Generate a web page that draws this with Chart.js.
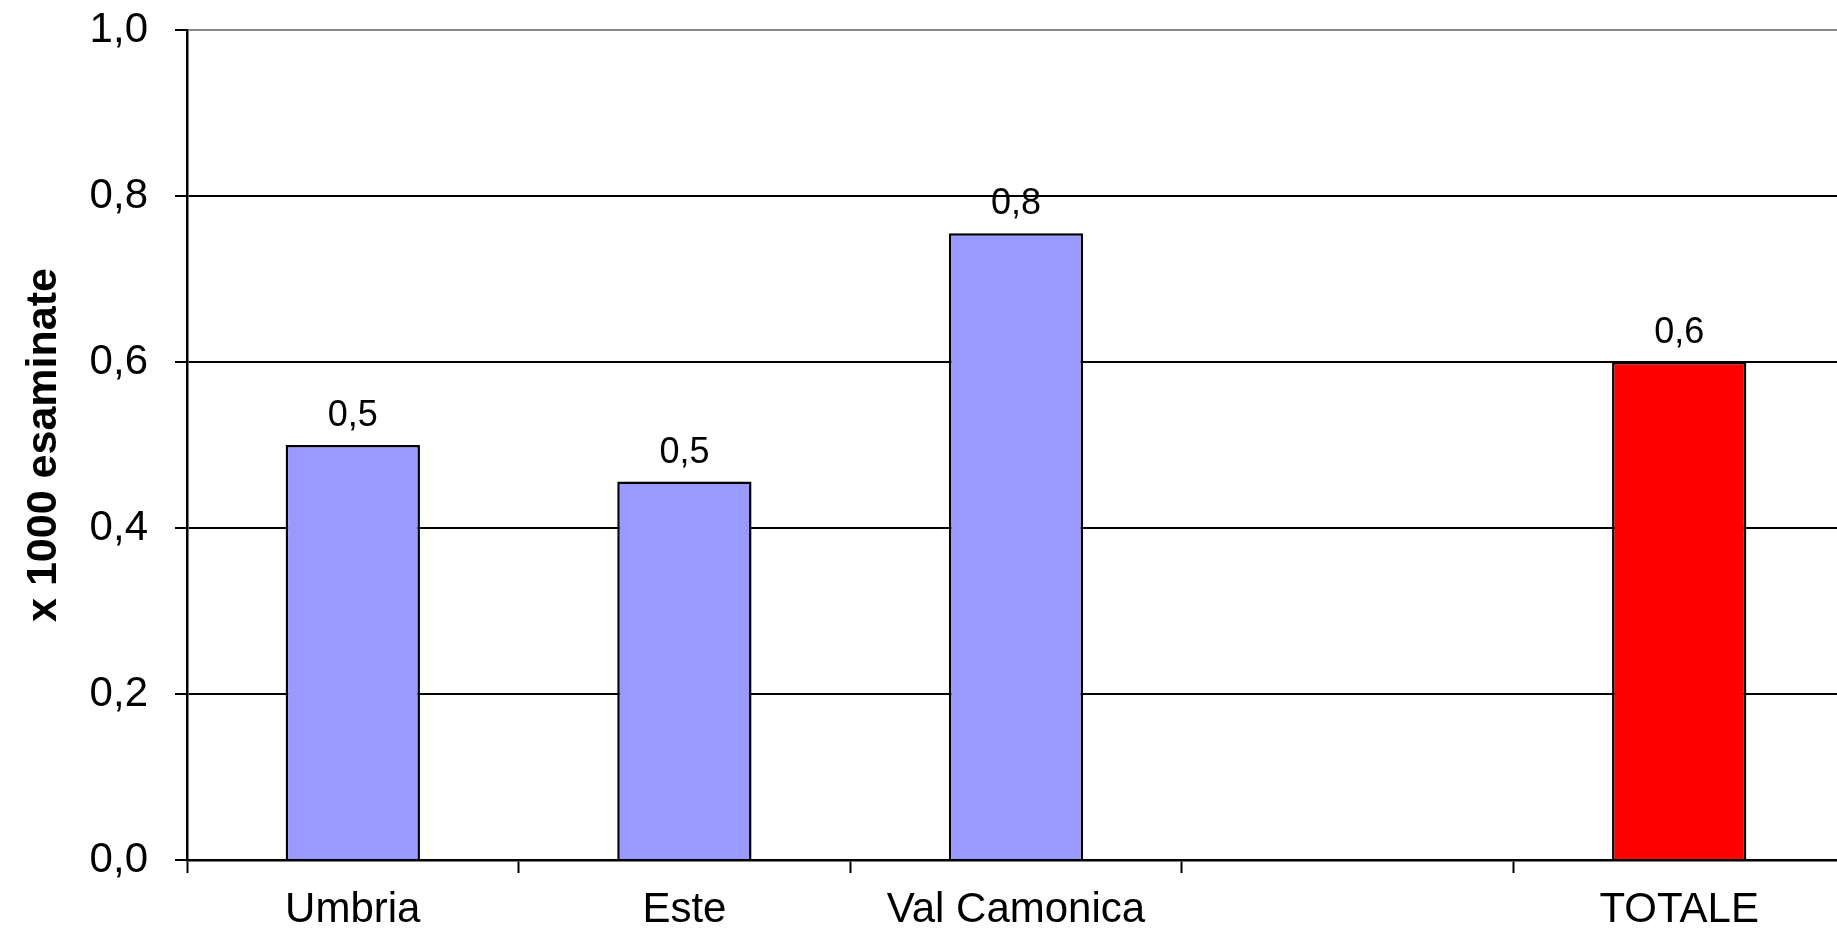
<!DOCTYPE html>
<html>
<head>
<meta charset="utf-8">
<script src="https://cdn.jsdelivr.net/npm/chart.js@4"></script>
<style>
  html, body { margin: 0; padding: 0; background: #fff; overflow: hidden; }
  canvas { display: block; }
</style>
</head>
<body>
<canvas id="myChart" width="1845" height="933"></canvas>
<script>
const categories = ['Umbria', 'Este', 'Val Camonica', '', 'TOTALE'];
const values = [0.50, 0.456, 0.755, null, 0.60];
const yTicks = [0, 0.2, 0.4, 0.6, 0.8, 1.0];

const fmt = v => v.toFixed(1).replace('.', ',');
const font = '"Liberation Sans", Arial, sans-serif';

// etichette sopra le barre
const valueLabels = {
    id: 'valueLabels',
    afterDatasetsDraw(chart) {
        const c = chart.ctx;
        const meta = chart.getDatasetMeta(0);
        c.save();
        c.font = '36px ' + font;
        c.fillStyle = '#000';
        c.textAlign = 'center';
        c.textBaseline = 'alphabetic';
        meta.data.forEach((bar, i) => {
            if (values[i] == null) return;
            c.fillText(fmt(values[i]), bar.x, bar.y - 19);
        });
        c.restore();
    }
};

const ctx = document.getElementById('myChart');

new Chart(ctx, {
    type: 'bar',
    data: {
        labels: categories,
        datasets: [{
            label: 'x 1000 esaminate',
            data: values,
            backgroundColor: c => categories[c.dataIndex] === 'TOTALE' ? '#FF0000' : '#9999FF',
            borderColor: '#000',
            borderWidth: 2.5,
            categoryPercentage: 1,
            barPercentage: 0.405
        }]
    },
    options: {
        responsive: false,
        animation: false,
        layout: {
            padding: { top: 30, right: 0, bottom: 0, left: 0 }
        },
        plugins: {
            legend: { display: false },
            tooltip: { enabled: false }
        },
        scales: {
            x: {
                offset: true,
                grid: {
                    offset: true,
                    drawOnChartArea: false,
                    tickLength: 13,
                    tickColor: '#000',
                    tickWidth: 2
                },
                border: { color: '#000', width: 2.5 },
                ticks: {
                    color: '#000',
                    font: { family: font, size: 42 },
                    padding: 12,
                    maxRotation: 0,
                    autoSkip: false
                },
                afterFit: s => {
                    s.height = 73;
                    s.paddingLeft = 0;
                    s.paddingRight = 0;
                }
            },
            y: {
                min: 0,
                max: 1,
                afterBuildTicks: s => { s.ticks = yTicks.map(v => ({ value: v })); },
                grid: {
                    color: c => c.tick && c.tick.value === 1 ? '#8c8c8c' : '#000',
                    lineWidth: 2,
                    tickLength: 12,
                    tickColor: '#000',
                    tickWidth: 2
                },
                border: { color: '#000', width: 2.5 },
                ticks: {
                    color: '#000',
                    font: { family: font, size: 42 },
                    padding: 27,
                    callback: v => fmt(v)
                },
                title: {
                    display: true,
                    text: 'x 1000 esaminate',
                    color: '#000',
                    font: { family: font, size: 43, weight: 'bold' },
                    padding: { top: 18, bottom: 0 }
                },
                afterFit: s => {
                    s.width = 187;
                    s.paddingTop = 0;
                    s.paddingBottom = 0;
                }
            }
        }
    },
    plugins: [valueLabels]
});
</script>
</body>
</html>
